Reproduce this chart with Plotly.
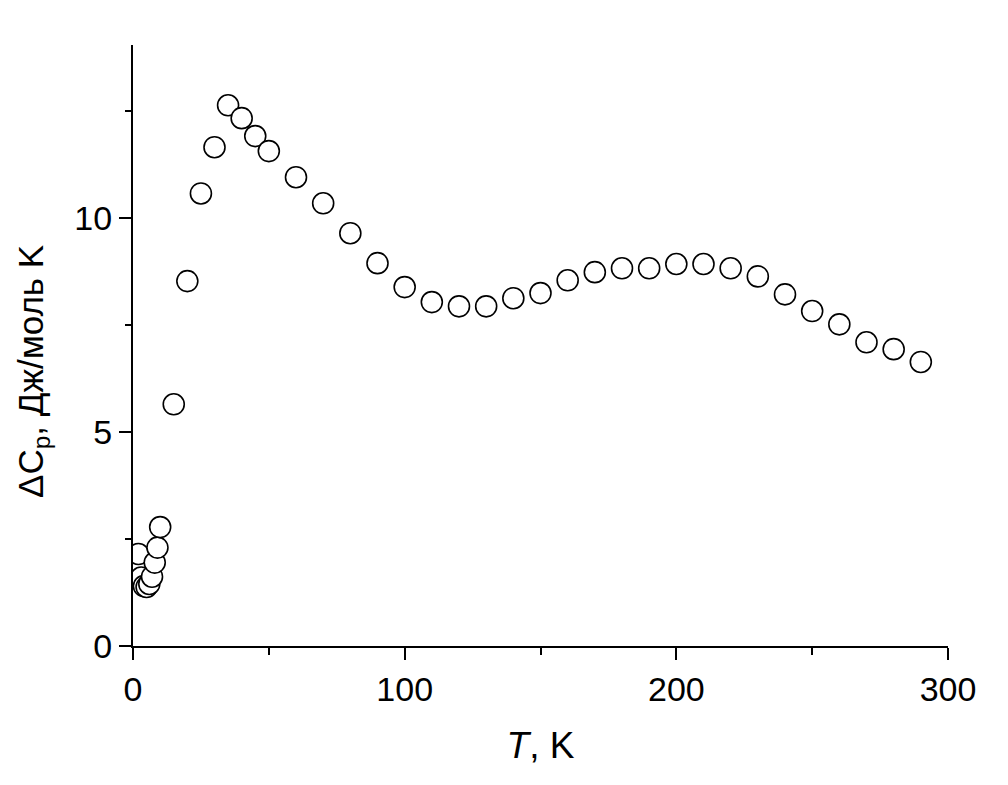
import plotly.graph_objects as go

T = [2, 3, 4, 5, 6, 7, 8, 9, 10, 15, 20, 25, 30, 35, 40, 45, 50, 60, 70, 80, 90,
     100, 110, 120, 130, 140, 150, 160, 170, 180, 190, 200, 210, 220, 230, 240,
     250, 260, 270, 280, 290]
dCp = [2.15, 1.6, 1.4, 1.38, 1.45, 1.62, 1.95, 2.3, 2.78, 5.65, 8.53, 10.58, 11.66,
       12.64, 12.34, 11.92, 11.57, 10.96, 10.35, 9.65, 8.95, 8.39, 8.04, 7.94,
       7.94, 8.13, 8.25, 8.55, 8.74, 8.83, 8.83, 8.93, 8.93, 8.83, 8.64, 8.22,
       7.83, 7.52, 7.10, 6.94, 6.64]
x_title = "<i>T</i>, K"
y_title = "ΔC<sub>p</sub>, Дж/моль K"

fig = go.Figure()
fig.add_trace(go.Scatter(
    x=T, y=dCp, mode="markers",
    marker=dict(symbol="circle", size=21, color="white",
                line=dict(color="black", width=1.6)),
    showlegend=False,
))

fam = "Liberation Sans Narrow, Arial Narrow, Liberation Sans, sans-serif"
font = dict(family=fam, size=34, color="black")

fig.update_layout(
    width=1008, height=785,
    paper_bgcolor="white", plot_bgcolor="white",
    margin=dict(l=125, r=68, t=37, b=147),
    font=font,
    xaxis=dict(
        range=[0, 300], showline=True, linecolor="black", linewidth=2,
        ticks="outside", ticklen=12, tickwidth=1.5, tickcolor="black",
        dtick=100, tick0=0, showgrid=False, zeroline=False,
        minor=dict(ticks="outside", ticklen=7, dtick=50, tickcolor="black", tickwidth=1.5, showgrid=False),
        title=dict(text=x_title, font=dict(size=37), standoff=25),
        tickfont=dict(size=34),
        automargin=False,
    ),
    yaxis=dict(
        range=[0, 14.05], showline=True, linecolor="black", linewidth=2,
        ticks="outside", ticklen=12, tickwidth=1.5, tickcolor="black",
        dtick=5, tick0=0, showgrid=False, zeroline=False,
        minor=dict(ticks="outside", ticklen=6, dtick=2.5, tickcolor="black", tickwidth=1.5, showgrid=False),
        tickfont=dict(size=34),
        automargin=False,
    ),
    annotations=[dict(
        text=y_title, textangle=-90, xref="paper", yref="paper",
        x=-0.1522, y=0.4576, xanchor="left", yanchor="middle",
        showarrow=False, font=dict(size=35),
    )],
)

fig.write_html("out.html")
